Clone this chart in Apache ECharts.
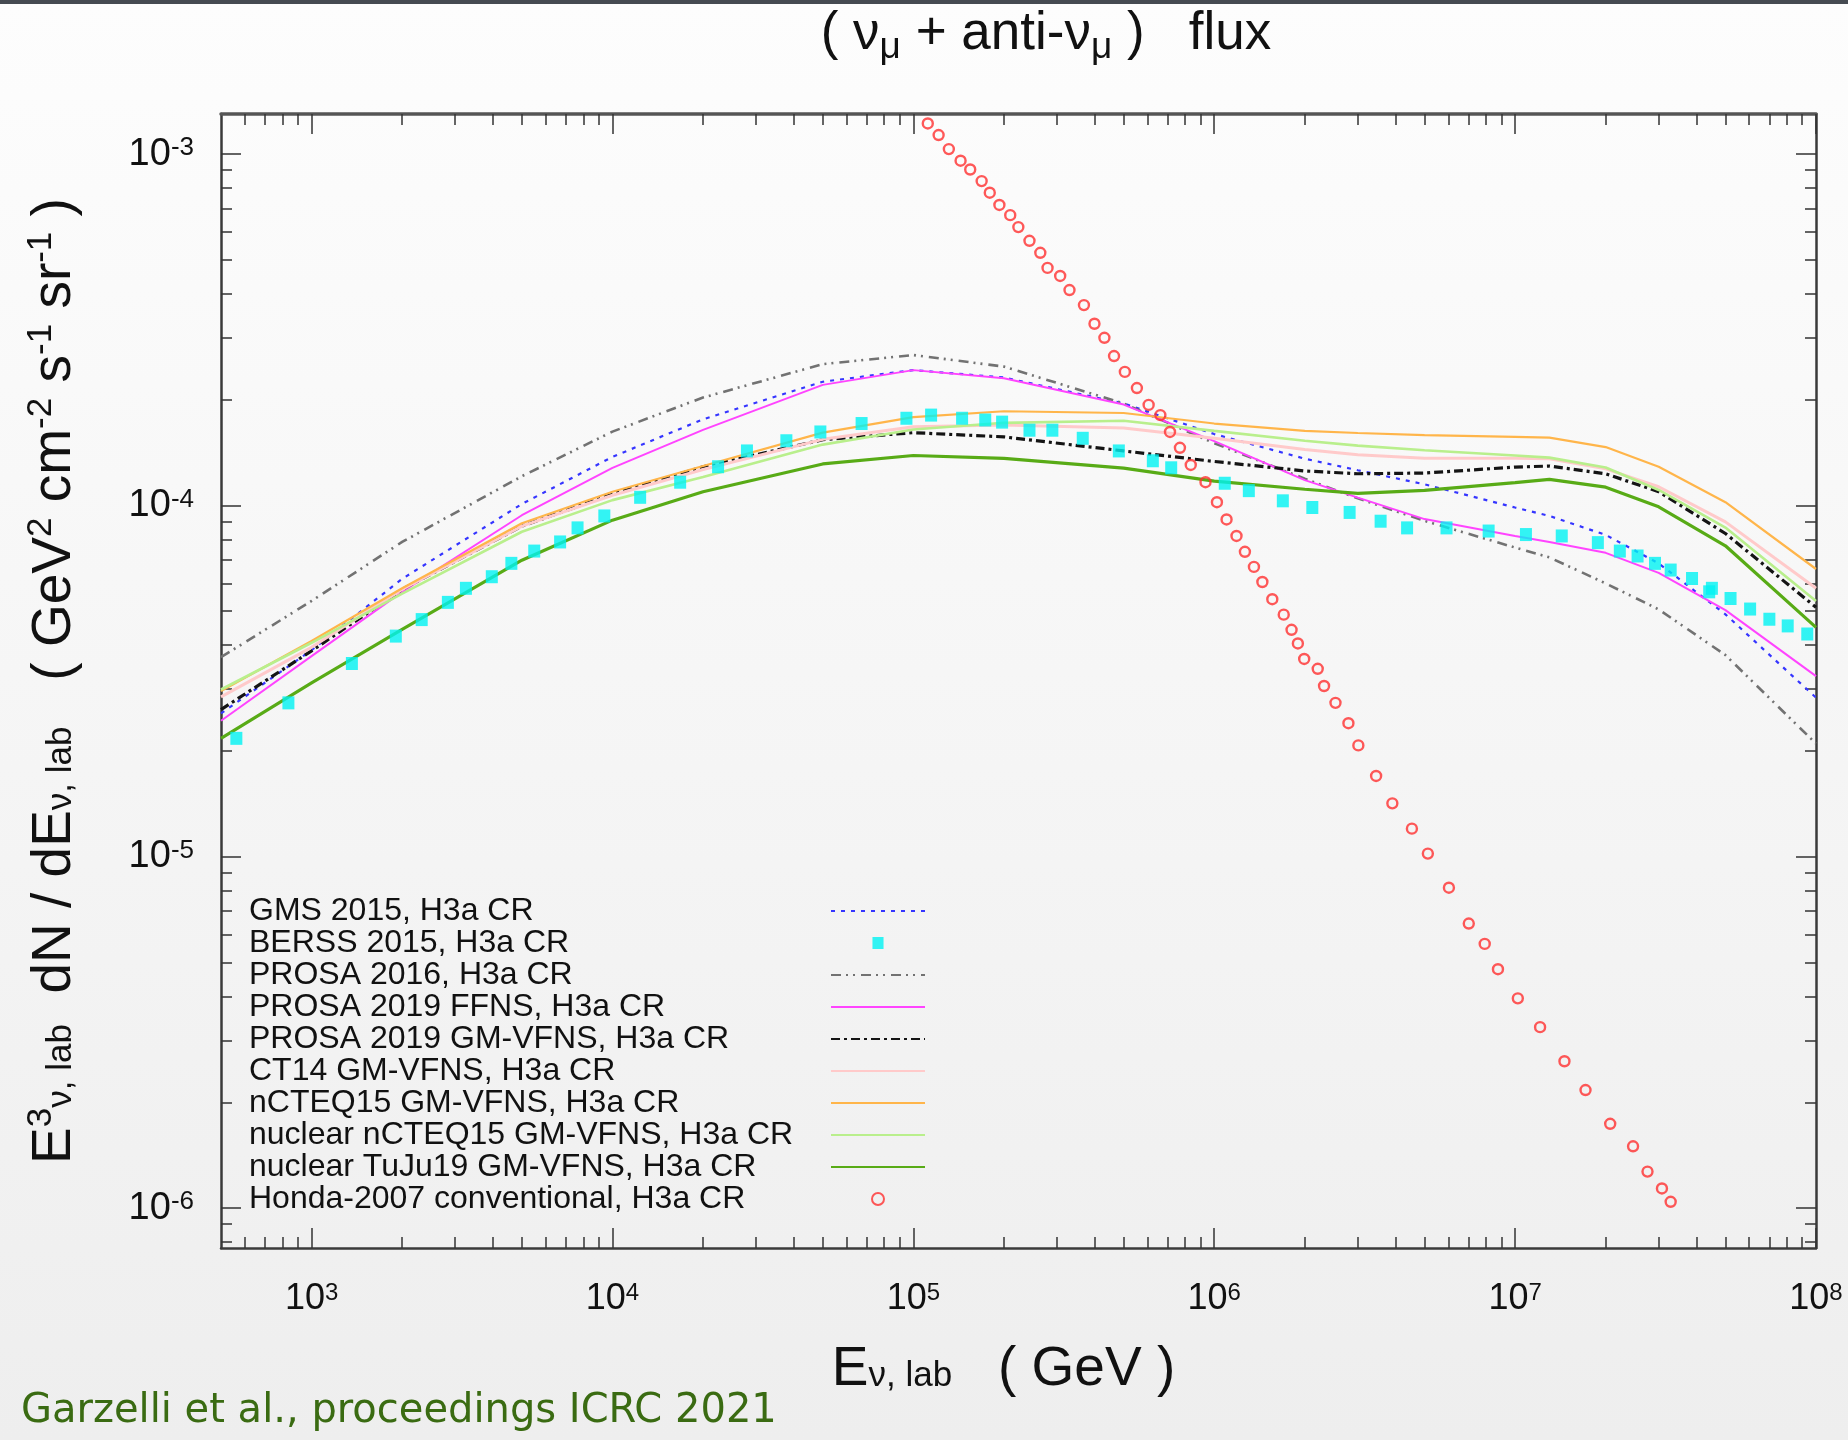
<!DOCTYPE html>
<html>
<head>
<meta charset="utf-8">
<script src="https://cdn.jsdelivr.net/npm/echarts@6/dist/echarts.min.js"></script>
<style>
html,body{margin:0;padding:0;background:#f4f4f4;}
#c{width:1848px;height:1440px;}
</style>
</head>
<body>
<div id="c"></div>
<script>
// ---- data ----
// energies (GeV) at which the model curves are sampled
const energyGeV = [500, 1e3, 2e3, 5e3, 1e4, 2e4, 5e4, 1e5, 2e5, 5e5, 1e6, 2e6, 3e6, 5e6, 1e7, 1.3e7, 2e7, 3e7, 5e7, 1e8];
// log10 of E^3 dN/dE (GeV^2 cm^-2 s^-1 sr^-1)
const gms2015Log    = [-4.592,-4.412,-4.209,-3.996,-3.862,-3.755,-3.648,-3.615,-3.636,-3.710,-3.797,-3.867,-3.900,-3.940,-4.006,-4.030,-4.084,-4.165,-4.310,-4.547];
const prosa2016Log  = [-4.432,-4.272,-4.104,-3.917,-3.790,-3.693,-3.598,-3.572,-3.605,-3.710,-3.823,-3.924,-3.980,-4.044,-4.120,-4.148,-4.222,-4.296,-4.426,-4.678];
const prosaFFNSLog  = [-4.613,-4.429,-4.246,-4.028,-3.893,-3.785,-3.657,-3.615,-3.638,-3.713,-3.817,-3.928,-3.978,-4.039,-4.087,-4.104,-4.135,-4.192,-4.298,-4.486];
const prosaVFNSLog  = [-4.581,-4.414,-4.239,-4.059,-3.968,-3.890,-3.813,-3.793,-3.805,-3.845,-3.875,-3.902,-3.910,-3.908,-3.891,-3.888,-3.910,-3.961,-4.080,-4.290];
const ct14Log       = [-4.545,-4.404,-4.239,-4.059,-3.971,-3.898,-3.812,-3.776,-3.771,-3.780,-3.809,-3.841,-3.856,-3.866,-3.866,-3.867,-3.896,-3.947,-4.047,-4.236];
const ncteq15Log    = [-4.528,-4.386,-4.236,-4.051,-3.961,-3.888,-3.793,-3.749,-3.732,-3.737,-3.767,-3.788,-3.794,-3.800,-3.805,-3.807,-3.834,-3.890,-3.991,-4.181];
const nucNcteqLog   = [-4.524,-4.391,-4.251,-4.075,-3.985,-3.919,-3.827,-3.784,-3.765,-3.759,-3.788,-3.816,-3.830,-3.843,-3.858,-3.864,-3.892,-3.956,-4.063,-4.272];
const nucTuJuLog    = [-4.663,-4.505,-4.353,-4.156,-4.042,-3.961,-3.882,-3.858,-3.866,-3.894,-3.931,-3.954,-3.966,-3.957,-3.935,-3.926,-3.948,-4.004,-4.115,-4.347];

// BERSS 2015 points: log10(E), log10(flux)
const berssLogE = [2.750,2.923,3.134,3.280,3.366,3.453,3.513,3.599,3.664,3.740,3.826,3.884,3.973,4.092,4.225,4.351,4.447,4.578,4.691,4.828,4.977,5.059,5.162,5.239,5.295,5.386,5.462,5.563,5.683,5.796,5.857,6.035,6.115,6.228,6.326,6.450,6.553,6.641,6.772,6.912,7.036,7.155,7.275,7.348,7.407,7.465,7.517,7.588,7.645,7.654,7.716,7.781,7.845,7.906,7.971];
const berssLogF = [-4.663,-4.562,-4.450,-4.372,-4.325,-4.276,-4.236,-4.203,-4.165,-4.130,-4.104,-4.064,-4.030,-3.977,-3.934,-3.890,-3.845,-3.816,-3.791,-3.767,-3.752,-3.743,-3.752,-3.757,-3.763,-3.786,-3.786,-3.809,-3.845,-3.873,-3.893,-3.937,-3.958,-3.987,-4.006,-4.020,-4.045,-4.064,-4.064,-4.073,-4.083,-4.087,-4.106,-4.130,-4.144,-4.165,-4.184,-4.208,-4.246,-4.236,-4.265,-4.295,-4.324,-4.343,-4.366];

// Honda-2007 conventional points: log10(E), log10(flux)
const hondaLogE = [5.048,5.084,5.118,5.157,5.189,5.227,5.254,5.286,5.322,5.349,5.386,5.422,5.446,5.488,5.519,5.567,5.602,5.635,5.667,5.703,5.743,5.782,5.821,5.853,5.886,5.922,5.971,6.009,6.041,6.074,6.102,6.132,6.160,6.193,6.231,6.257,6.278,6.299,6.344,6.365,6.403,6.446,6.479,6.538,6.592,6.657,6.710,6.780,6.846,6.899,6.943,7.009,7.083,7.164,7.234,7.316,7.392,7.440,7.488,7.517];
const hondaLogF = [-2.913,-2.946,-2.986,-3.019,-3.044,-3.077,-3.110,-3.145,-3.174,-3.208,-3.247,-3.281,-3.324,-3.347,-3.387,-3.430,-3.483,-3.523,-3.575,-3.620,-3.666,-3.714,-3.743,-3.791,-3.836,-3.885,-3.934,-3.991,-4.040,-4.087,-4.132,-4.175,-4.218,-4.267,-4.311,-4.354,-4.393,-4.437,-4.465,-4.514,-4.562,-4.620,-4.683,-4.770,-4.848,-4.920,-4.991,-5.088,-5.190,-5.248,-5.320,-5.403,-5.485,-5.582,-5.664,-5.760,-5.824,-5.896,-5.944,-5.982];

const seriesNames = [
  'GMS 2015, H3a CR',
  'BERSS 2015, H3a CR',
  'PROSA 2016, H3a CR',
  'PROSA 2019 FFNS, H3a CR',
  'PROSA 2019 GM-VFNS, H3a CR',
  'CT14 GM-VFNS, H3a CR',
  'nCTEQ15 GM-VFNS, H3a CR',
  'nuclear nCTEQ15 GM-VFNS, H3a CR',
  'nuclear TuJu19 GM-VFNS, H3a CR',
  'Honda-2007 conventional, H3a CR'
];

// axis ticks
const xMin = 500, xMax = 1e8;
const yMin = 7.7e-7, yMax = 1.3e-3;
const xMajorTicks = [1e3, 1e4, 1e5, 1e6, 1e7, 1e8];
const yMajorTicks = [1e-6, 1e-5, 1e-4, 1e-3];
const xMinorTicks = [];
for (let p = 2; p <= 7; p++) for (let m = 2; m <= 9; m++) { const v = m * Math.pow(10, p); if (v > xMin && v < xMax) xMinorTicks.push(v); }
const yMinorTicks = [];
for (let p = -7; p <= -3; p++) for (let m = 2; m <= 9; m++) { const v = m * Math.pow(10, p); if (v > yMin && v < yMax) yMinorTicks.push(v); }

// ---- build ----
const F = "'Liberation Sans', Arial, Helvetica, sans-serif";
const TXT = '#111111';
const curve = (lg) => energyGeV.map((e, i) => [e, Math.pow(10, lg[i])]);
const pts = (lx, ly) => lx.map((x, i) => [Math.pow(10, x), Math.pow(10, ly[i])]);

function lineSeries(name, lg, color, width, type, z) {
  return {
    name, type: 'line', data: curve(lg), xAxisIndex: 0, yAxisIndex: 0,
    symbol: 'none', showSymbol: false, smooth: false, clip: true, z: z || 2,
    lineStyle: { color, width, type },
    itemStyle: { color },
    emphasis: { disabled: true }
  };
}

const expFmt = (v) => '{b|10}{s|' + Math.round(Math.log10(v)) + '}';
const tickLine = { color: '#333', width: 1.5 };

function logAxis(kind, position, major, isMain, extra) {
  const isX = kind === 'x';
  const base = {
    type: 'log', logBase: 10, position,
    min: isX ? xMin : yMin, max: isX ? xMax : yMax,
    splitLine: { show: false }, minorTick: { show: false }, minorSplitLine: { show: false },
    axisPointer: { show: false },
    axisLine: { show: major, lineStyle: { color: '#3a3a3a', width: 2.5 } },
    axisTick: {
      show: true, inside: true, length: major ? 20 : 11,
      customValues: major ? (isX ? xMajorTicks : yMajorTicks) : (isX ? xMinorTicks : yMinorTicks),
      lineStyle: tickLine
    },
    axisLabel: { show: false }
  };
  if (isMain) {
    base.axisLabel = {
      show: true,
      customValues: isX ? xMajorTicks : yMajorTicks,
      formatter: expFmt,
      margin: isX ? 33 : 27,
      rich: isX ? {
        b: { fontSize: 36, fontFamily: F, color: TXT, lineHeight: 36, verticalAlign: 'bottom', padding: [4, 0, 0, 0] },
        s: { fontSize: 24, fontFamily: F, color: TXT, lineHeight: 24, verticalAlign: 'top' }
      } : {
        b: { fontSize: 38, fontFamily: F, color: TXT, lineHeight: 38, verticalAlign: 'bottom', padding: [4, 0, 0, 0] },
        s: { fontSize: 26, fontFamily: F, color: TXT, lineHeight: 26, verticalAlign: 'top' }
      }
    };
  }
  return Object.assign(base, extra || {});
}

const nameRich = {
  n:  { fontSize: 55, fontFamily: F, color: TXT, fontWeight: 'normal', lineHeight: 55, padding: [12, 0, 6, 0] },
  sb: { fontSize: 35, fontFamily: F, color: TXT, fontWeight: 'normal', lineHeight: 35, verticalAlign: 'bottom' },
  sp: { fontSize: 35, fontFamily: F, color: TXT, fontWeight: 'normal', lineHeight: 35, verticalAlign: 'top' }
};

const hideDot = { opacity: 0, borderWidth: 0 };
const legendData = seriesNames.map((n, i) => {
  if (i === 1) return { name: n, icon: 'path://M0,0L12,0L12,13L0,13Z' };
  if (i === 9) return { name: n };
  return { name: n, itemStyle: hideDot };
});

const option = {
  animation: false,
  backgroundColor: {
    type: 'linear', x: 0, y: 0, x2: 0, y2: 1,
    colorStops: [{ offset: 0, color: '#fdfdfd' }, { offset: 1, color: '#eeeeee' }]
  },
  title: {
    text: '{n|( }{n|ν}{sb|μ}{n| + anti-}{n|ν}{sb|μ}{n| )   flux}',
    left: 1046, top: 13, textAlign: 'center', padding: 0,
    textStyle: {
      fontSize: 53, fontFamily: F, color: TXT, fontWeight: 'normal',
      rich: {
        n:  { fontSize: 53, fontFamily: F, color: TXT, fontWeight: 'normal', lineHeight: 53, padding: [0, 0, 11, 0] },
        sb: { fontSize: 37, fontFamily: F, color: TXT, fontWeight: 'normal', lineHeight: 37, verticalAlign: 'bottom' }
      }
    }
  },
  grid: { left: 221, top: 114, width: 1595, height: 1134, containLabel: false, outerBoundsMode: 'none' },
  legend: {
    orient: 'vertical', left: 249, top: 895, padding: 0, itemGap: 0,
    itemWidth: 94, itemHeight: 12, align: 'right', selectedMode: false, symbolKeepAspect: true,
    data: legendData,
    formatter: (name) => '{a|' + name + '}',
    textStyle: {
      fontSize: 32, fontFamily: F, color: TXT,
      rich: { a: { fontSize: 32, fontFamily: F, color: TXT, lineHeight: 32.8, width: 577, align: 'left' } }
    }
  },
  xAxis: [
    logAxis('x', 'bottom', true, true, {
      name: '{n|E}{sb|ν, lab}{n|   ( GeV )}',
      nameLocation: 'middle', nameGap: 91, nameMoveOverlap: false,
      nameTextStyle: { fontSize: 55, fontFamily: F, color: TXT, padding: [0, 30, 0, 0], rich: nameRich }
    }),
    logAxis('x', 'bottom', false, false),
    logAxis('x', 'top', true, false, { axisLine: { show: true, lineStyle: { color: '#555', width: 3.5 } } }),
    logAxis('x', 'top', false, false)
  ],
  yAxis: [
    logAxis('y', 'left', true, true, {
      name: '{n|E}{sp|3}{sb|ν, lab}{n|  dN / dE}{sb|ν, lab}{n|   ( GeV}{sp|2}{n| cm}{sp|-2}{n| s}{sp|-1}{n| sr}{sp|-1}{n| )}',
      nameLocation: 'middle', nameGap: 142, nameRotate: 90, nameMoveOverlap: false,
      nameTextStyle: { fontSize: 55, fontFamily: F, color: TXT, rich: nameRich }
    }),
    logAxis('y', 'left', false, false),
    logAxis('y', 'right', true, false),
    logAxis('y', 'right', false, false)
  ],
  graphic: [
    { type: 'rect', left: 0, top: 0, shape: { width: 1848, height: 4 }, style: { fill: '#464b52' }, silent: true },
    { type: 'text', x: 21, y: 1412, silent: true,
      style: { text: 'Garzelli et al., proceedings ICRC 2021', fontSize: 40, fontFamily: "'DejaVu Sans', sans-serif", fill: '#3a6b12', verticalAlign: 'middle', align: 'left' } }
  ],
  series: [
    lineSeries(seriesNames[0], gms2015Log, '#3535ff', 2.2, [4, 6]),
    {
      name: seriesNames[1], type: 'scatter', data: pts(berssLogE, berssLogF), xAxisIndex: 0, yAxisIndex: 0,
      symbol: 'rect', symbolSize: [12, 13], z: 3, clip: true,
      itemStyle: { color: '#00f2f2' }, emphasis: { disabled: true }
    },
    lineSeries(seriesNames[2], prosa2016Log, '#727272', 2.6, [10, 5, 2, 5, 2, 6]),
    lineSeries(seriesNames[3], prosaFFNSLog, '#ff44ff', 2, 'solid'),
    lineSeries(seriesNames[4], prosaVFNSLog, '#141414', 3.2, [9, 4, 3, 4]),
    lineSeries(seriesNames[5], ct14Log, '#ffcaca', 3, 'solid'),
    lineSeries(seriesNames[6], ncteq15Log, '#ffb54a', 2.2, 'solid'),
    lineSeries(seriesNames[7], nucNcteqLog, '#b9ef8c', 2.6, 'solid'),
    lineSeries(seriesNames[8], nucTuJuLog, '#58ab16', 3.2, 'solid'),
    {
      name: seriesNames[9], type: 'scatter', data: pts(hondaLogE, hondaLogF), xAxisIndex: 0, yAxisIndex: 0,
      symbol: 'circle', symbolSize: 10, z: 4, clip: true,
      itemStyle: { color: 'rgba(255,255,255,0)', borderColor: '#ff3030', borderWidth: 2.4 }, emphasis: { disabled: true }
    }
  ]
};

const chart = echarts.init(document.getElementById('c'), null, { renderer: 'canvas', width: 1848, height: 1440 });
chart.setOption(option);
</script>
</body>
</html>
